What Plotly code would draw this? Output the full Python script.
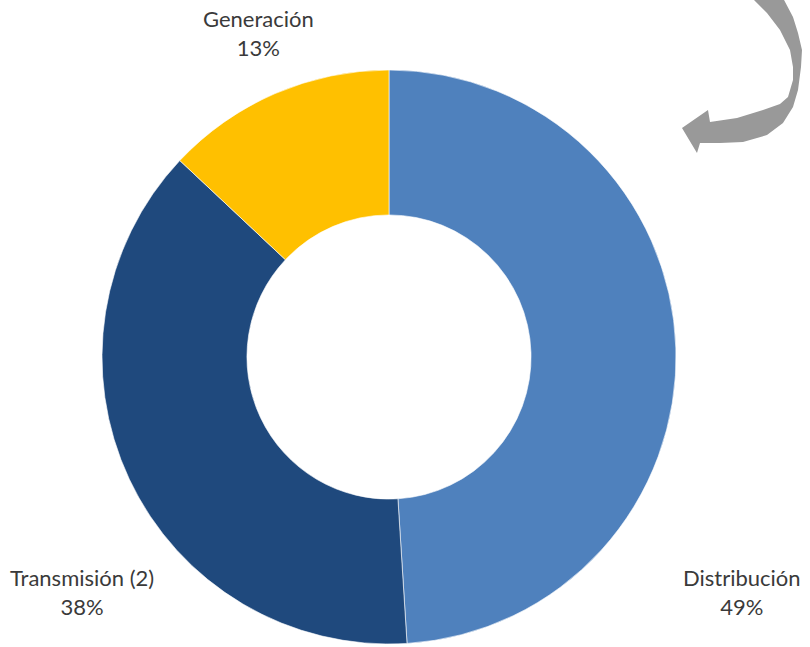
import plotly.graph_objects as go

W, H = 810, 647

labels = ["Distribución", "Transmisión (2)", "Generación"]
values = [49, 38, 13]
colors = ["#4F81BD", "#1F497D", "#FFC000"]

# label positions in pixels (centre of the two-line text block)
label_pos = {
    "Distribución": (742, 592),
    "Transmisión (2)": (82, 592),
    "Generación": (258, 33),
}


def px(x, y):
    return x / W, 1 - y / H


# donut: centre (389, 357), radius ~287 px
cx, cy, r = 389, 357, 287
x0, _ = px(cx - r, 0)
x1, _ = px(cx + r, 0)
_, y0 = px(0, cy + r)
_, y1 = px(0, cy - r)

fig = go.Figure()
fig.add_trace(go.Pie(
    labels=labels,
    values=values,
    hole=0.495,
    sort=False,
    direction="clockwise",
    rotation=0,
    marker=dict(colors=colors, line=dict(color="white", width=0.6)),
    textinfo="none",
    showlegend=False,
    domain=dict(x=[x0, x1], y=[y0, y1]),
))

total = sum(values)
for lab, val in zip(labels, values):
    lx, ly = px(*label_pos[lab])
    fig.add_annotation(
        x=lx, y=ly, xref="paper", yref="paper",
        xanchor="center", yanchor="middle",
        text=f"{lab}<br>{round(100 * val / total)}%",
        showarrow=False,
        font=dict(family="Lato, Calibri, sans-serif", size=22, color="#3a3a3a"),
        align="center",
    )

# curved grey arrow in the top-right corner
arrow_px = [
    (752, -2), (767, 13), (780, 30), (790, 50), (793, 67), (793, 80),
    (788, 97), (780, 104), (763, 110), (737, 118), (710, 122),
    (708, 110), (682, 128), (697, 153), (700, 143), (720, 143),
    (743, 142), (767, 135), (783, 123), (793, 107), (798, 90),
    (801, 67), (802, 50), (798, 33), (793, 17), (783, -2),
]
path = ""
for i, (ax, ay) in enumerate(arrow_px):
    qx, qy = px(ax, ay)
    path += ("M" if i == 0 else "L") + f"{qx:.5f},{qy:.5f} "
path += "Z"
fig.add_shape(type="path", path=path, xref="paper", yref="paper",
              fillcolor="#999999", line=dict(width=0))

fig.update_layout(
    width=W, height=H,
    margin=dict(l=0, r=0, t=0, b=0),
    paper_bgcolor="white",
    plot_bgcolor="white",
)

fig.write_html(
    "out.html",
    config={"displayModeBar": False},
    post_script="document.body.style.margin='0';document.body.style.overflow='hidden';",
)
